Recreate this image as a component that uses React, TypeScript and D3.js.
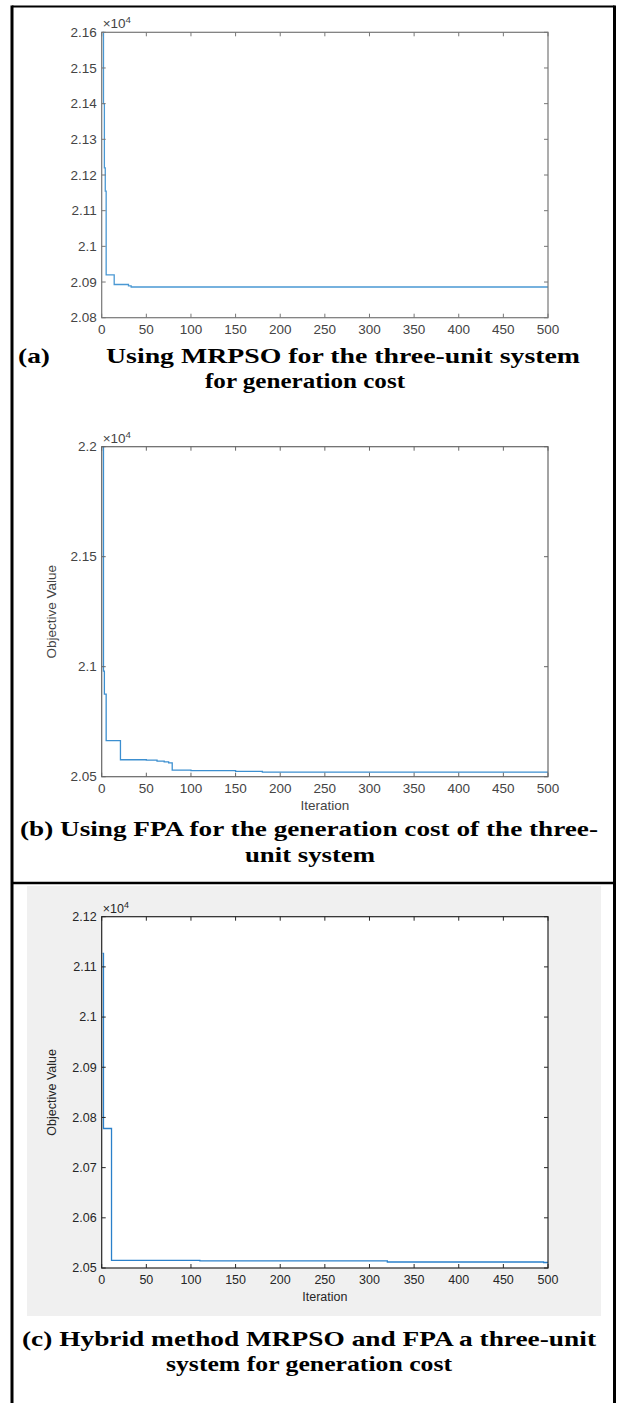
import * as d3 from "d3";

// iteration axis (shared by all three panels)
const iterTicks = [0, 50, 100, 150, 200, 250, 300, 350, 400, 450, 500];

// (a) MRPSO convergence
const iterA = [1, 2, 3, 4, 5, 14, 30, 33, 500];
const costA = [21600, 21400, 21220, 21155, 20920, 20893, 20889, 20886, 20886];
const costTicksA = [20800, 20900, 21000, 21100, 21200, 21300, 21400, 21500, 21600];

// (b) FPA convergence
const iterB = [1, 2, 3, 5, 21, 50, 62, 70, 75, 79, 100, 150, 180, 500];
const costB = [22000, 20980, 20875, 20664, 20577, 20575, 20571, 20567, 20563, 20530, 20528, 20524, 20521, 20521];
const costTicksB = [20500, 21000, 21500, 22000];

// (c) hybrid MRPSO + FPA convergence
const iterC = [1, 2, 11, 110, 320, 495, 500];
const costC = [21127, 20778, 20515, 20514, 20512, 20511, 20511];
const costTicksC = [20500, 20600, 20700, 20800, 20900, 21000, 21100, 21200];

const fmt = (v: number) => String(+(v / 1e4).toFixed(4));

interface PlotProps {
  left: number;
  top: number;
  right: number;
  bottom: number;
  yDomain: [number, number];
  yTicks: number[];
  iters: number[];
  costs: number[];
  line: string;
  axis: string;
  text: string;
  fontSize: number;
  yLabel?: boolean;
  xLabel?: boolean;
}

function Plot(p: PlotProps) {
  const x = d3.scaleLinear().domain([0, 500]).range([p.left, p.right]);
  const y = d3.scaleLinear().domain(p.yDomain).range([p.bottom, p.top]);
  const pts = p.iters.map((it, i) => [it, p.costs[i]] as [number, number]);
  const path = d3
    .line<[number, number]>()
    .x((d) => x(d[0]))
    .y((d) => y(d[1]))
    .curve(d3.curveStepAfter)(pts);
  const tk = 4;
  const font = "'Liberation Sans', Arial, sans-serif";

  return (
    <g fontFamily={font} fill={p.text}>
      <rect x={p.left} y={p.top} width={p.right - p.left} height={p.bottom - p.top} fill="#fff" />
      <path d={path ?? ""} fill="none" stroke={p.line} strokeWidth={1.3} />
      <rect
        x={p.left}
        y={p.top}
        width={p.right - p.left}
        height={p.bottom - p.top}
        fill="none"
        stroke={p.axis}
        strokeWidth={1.2}
      />
      {iterTicks.map((t) => (
        <g key={"x" + t}>
          <line x1={x(t)} x2={x(t)} y1={p.bottom} y2={p.bottom - tk} stroke={p.axis} />
          <line x1={x(t)} x2={x(t)} y1={p.top} y2={p.top + tk} stroke={p.axis} />
          <text x={x(t)} y={p.bottom + 16} fontSize={p.fontSize} textAnchor="middle">
            {t}
          </text>
        </g>
      ))}
      {p.yTicks.map((t) => (
        <g key={"y" + t}>
          <line x1={p.left} x2={p.left + tk} y1={y(t)} y2={y(t)} stroke={p.axis} />
          <line x1={p.right} x2={p.right - tk} y1={y(t)} y2={y(t)} stroke={p.axis} />
          <text x={p.left - 5} y={y(t)} dy="0.35em" fontSize={p.fontSize} textAnchor="end">
            {fmt(t)}
          </text>
        </g>
      ))}
      <text x={p.left + 1} y={p.top - 4} fontSize={p.fontSize}>
        ×10
        <tspan dy={-5} fontSize={p.fontSize * 0.72}>
          4
        </tspan>
      </text>
      {p.yLabel && (
        <text
          transform={`translate(${p.left - 46},${(p.top + p.bottom) / 2}) rotate(-90)`}
          fontSize={p.fontSize}
          textAnchor="middle"
        >
          Objective Value
        </text>
      )}
      {p.xLabel && (
        <text x={(p.left + p.right) / 2} y={p.bottom + 33} fontSize={p.fontSize} textAnchor="middle">
          Iteration
        </text>
      )}
    </g>
  );
}

export default function App() {
  const serif = "'Liberation Serif', 'Times New Roman', serif";
  return (
    <svg
      width={618}
      height={1403}
      style={{ position: "absolute", left: 0, top: 0, background: "#fff" }}
    >
      {/* table borders */}
      <line x1={12} x2={614.5} y1={6.5} y2={6.5} stroke="#000" strokeWidth={2} />
      <line x1={12} x2={12} y1={5.5} y2={1403} stroke="#000" strokeWidth={3} />
      <line x1={614.5} x2={614.5} y1={5.5} y2={1403} stroke="#000" strokeWidth={3} />
      <line x1={12} x2={614.5} y1={883} y2={883} stroke="#000" strokeWidth={2.5} />
      <rect x={27} y={886} width={574} height={430} fill="#f0f0f0" />

      <Plot
        left={101.7}
        top={32.3}
        right={548}
        bottom={317.7}
        yDomain={[20800, 21600]}
        yTicks={costTicksA}
        iters={iterA}
        costs={costA}
        line="#4a98d3"
        axis="#777"
        text="#444"
        fontSize={13.5}
      />
      <Plot
        left={101.7}
        top={446.7}
        right={548}
        bottom={776.7}
        yDomain={[20500, 22000]}
        yTicks={costTicksB}
        iters={iterB}
        costs={costB}
        line="#3c8fd0"
        axis="#666"
        text="#444"
        fontSize={13.5}
        yLabel
        xLabel
      />
      <Plot
        left={101.7}
        top={916.7}
        right={548}
        bottom={1268}
        yDomain={[20500, 21200]}
        yTicks={costTicksC}
        iters={iterC}
        costs={costC}
        line="#2a80ca"
        axis="#262626"
        text="#262626"
        fontSize={12.5}
        yLabel
        xLabel
      />

      <g fontFamily={serif} fontWeight="bold" fontSize={22} fill="#000">
        <text x={18} y={363} textLength={32} lengthAdjust="spacingAndGlyphs">(a)</text>
        <text x={106} y={363} textLength={474} lengthAdjust="spacingAndGlyphs">
          Using MRPSO for the three-unit system
        </text>
        <text x={205} y={388} textLength={200} lengthAdjust="spacingAndGlyphs">
          for generation cost
        </text>

        <text x={20} y={836} textLength={578} lengthAdjust="spacingAndGlyphs">
          (b) Using FPA for the generation cost of the three-
        </text>
        <text x={245} y={862} textLength={130} lengthAdjust="spacingAndGlyphs">
          unit system
        </text>

        <text x={22} y={1346} textLength={574} lengthAdjust="spacingAndGlyphs">
          (c) Hybrid method MRPSO and FPA a three-unit
        </text>
        <text x={166} y={1371} textLength={286} lengthAdjust="spacingAndGlyphs">
          system for generation cost
        </text>
      </g>
    </svg>
  );
}
